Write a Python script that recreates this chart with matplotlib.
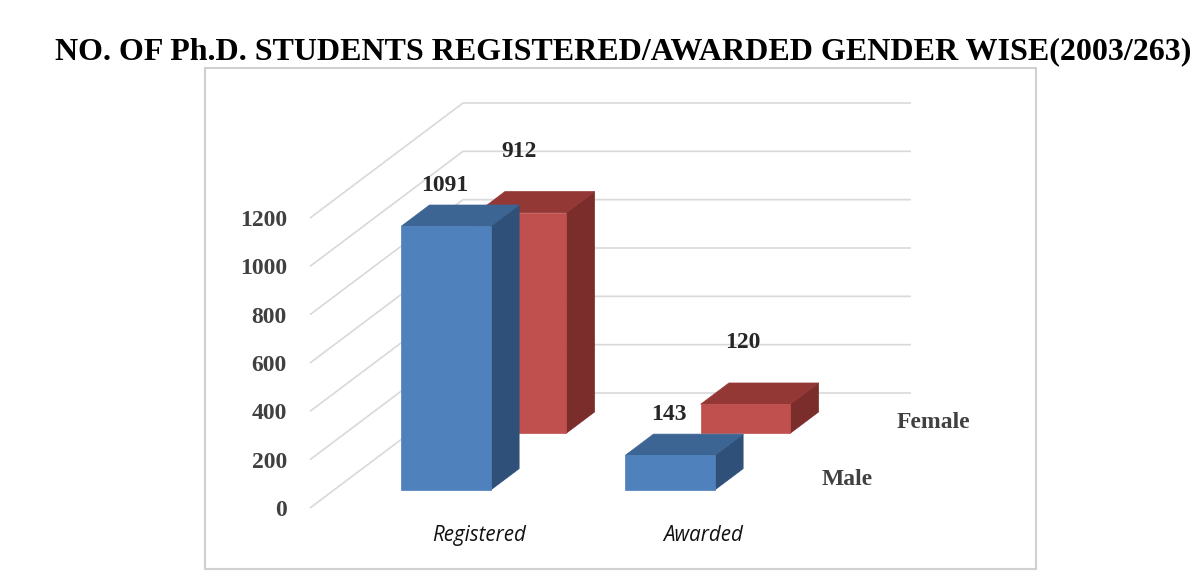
import matplotlib
matplotlib.use('Agg')
import matplotlib.pyplot as plt
from matplotlib.patches import Polygon, Rectangle
import numpy as np

# ---- data ----
categories = ['Registered', 'Awarded']
series_names = ['Male', 'Female']
male = [1091, 143]
female = [912, 120]
yticks = [0, 200, 400, 600, 800, 1000, 1200]
title = 'NO. OF Ph.D. STUDENTS REGISTERED/AWARDED GENDER WISE(2003/263)'

# ---- style ----
male_cols = {'front': '#4F81BD', 'top': '#3C6594', 'side': '#2F5179'}
female_cols = {'front': '#C0504D', 'top': '#943836', 'side': '#7A2D2B'}
grid_col = '#d9d9d9'
serif = ['Liberation Serif', 'DejaVu Serif']

W, H = 1200, 573
fig = plt.figure(figsize=(W / 100, H / 100), dpi=100)

# layout (pixels)
px_per_cat = 224.0
px_per_val = 290.0 / 1200.0
x0_px, y0_px = 310, 508
ax_l, ax_r, ax_t, ax_b = 300, 1000, 70, 545
ax = fig.add_axes([ax_l / W, 1 - ax_b / H, (ax_r - ax_l) / W, (ax_b - ax_t) / H])
ax.set_xlim((ax_l - x0_px) / px_per_cat, (ax_r - x0_px) / px_per_cat)
ax.set_ylim(-(ax_b - y0_px) / px_per_val, (y0_px - ax_t) / px_per_val)
ax.patch.set_visible(False)
for s in ax.spines.values():
    s.set_visible(False)

# oblique depth vector (z from 0 at front to 1 at back wall)
DX = 153.0 / px_per_cat
DV = 115.0 / px_per_val
ncat = len(categories)


def proj(x, v, z):
    return (x + z * DX, v + z * DV)


# gridlines: side wall diagonals + back wall
for t in yticks:
    p0 = proj(0, t, 0)
    p1 = proj(0, t, 1)
    p2 = proj(ncat, t, 1)
    ax.plot([p0[0], p1[0], p2[0]], [p0[1], p1[1], p2[1]], color=grid_col,
            lw=1.2, zorder=1, solid_capstyle='butt')

bar_w = 0.40
depth = 0.185
z_rows = {'Male': 0.157, 'Female': 0.65}


def draw_bar(xc, v, z0, cols, zo):
    xl, xr = xc - bar_w / 2, xc + bar_w / 2
    z1 = z0 + depth
    front = [proj(xl, 0, z0), proj(xr, 0, z0), proj(xr, v, z0), proj(xl, v, z0)]
    top = [proj(xl, v, z0), proj(xr, v, z0), proj(xr, v, z1), proj(xl, v, z1)]
    side = [proj(xr, 0, z0), proj(xr, 0, z1), proj(xr, v, z1), proj(xr, v, z0)]
    for poly, key in ((side, 'side'), (top, 'top'), (front, 'front')):
        ax.add_patch(Polygon(poly, closed=True, facecolor=cols[key],
                             edgecolor=cols[key], lw=0.5, zorder=zo))


# back row first (Female), then front row (Male)
for i, v in enumerate(female):
    draw_bar(i + 0.5, v, z_rows['Female'], female_cols, 3)
for i, v in enumerate(male):
    draw_bar(i + 0.5, v, z_rows['Male'], male_cols, 5)

# value labels
lab_kw = dict(fontsize=17, fontweight='bold', family=serif, color='#262626',
              ha='center', va='center', zorder=10)
for i, v in enumerate(male):
    ax.annotate(str(v), xy=proj(i + 0.5, v, z_rows['Male']), xytext=(-1, 29.5),
                textcoords='offset points', **lab_kw)
for i, v in enumerate(female):
    ax.annotate(str(v), xy=proj(i + 0.5, v, z_rows['Female']), xytext=(-2, 44.5),
                textcoords='offset points', **lab_kw)

# series labels (depth axis)
for name in series_names:
    z = z_rows[name] + depth / 2
    ax.annotate(name, xy=proj(ncat, 0, z), xytext=(18, 0), textcoords='offset points',
                ha='left', va='center', fontsize=17, fontweight='bold', family=serif,
                color='#404040')

# category labels
for i, c in enumerate(categories):
    ax.annotate(c, xy=(i + 0.5, 0), xytext=(41, -20), textcoords='offset points',
                ha='center', va='center', fontsize=14.8, style='italic',
                family=['Open Sans', 'DejaVu Sans'], color='#111111')

# y axis ticks
ax.set_xticks([])
ax.set_yticks(yticks)
ax.set_yticklabels([str(t) for t in yticks])
ax.tick_params(axis='y', length=0, pad=9.4)
for lbl in ax.get_yticklabels():
    lbl.set_fontfamily(serif)
    lbl.set_fontweight('bold')
    lbl.set_fontsize(17)
    lbl.set_color('#404040')

# title
fig.text(623 / W, 1 - 59 / H, title, ha='center', va='baseline', fontsize=23,
         fontweight='bold', family=serif, color='black')

# chart border
fig.add_artist(Rectangle((205 / W, 1 - 569 / H), (1036 - 205) / W, (569 - 68) / H,
                         transform=fig.transFigure, fill=False, edgecolor='#d0d0d0',
                         lw=1.5))

fig.savefig('out.png', dpi=100)
